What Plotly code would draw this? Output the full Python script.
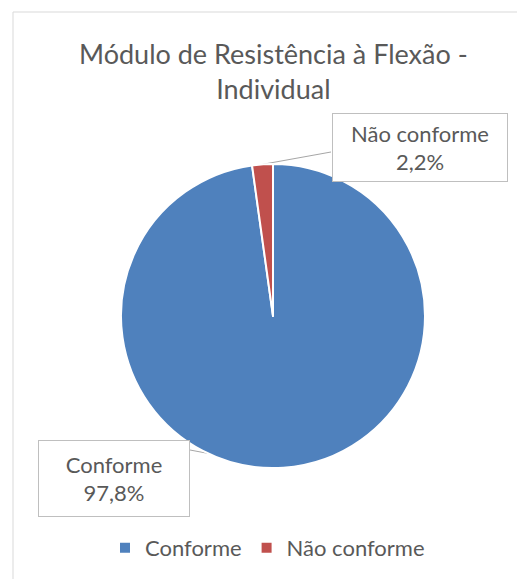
import math
import plotly.graph_objects as go

labels = ["Conforme", "Não conforme"]
values = [97.8, 2.2]
label_texts = ["Conforme<br>97,8%", "Não conforme<br>2,2%"]
colors = ["#4F81BD", "#C0504D"]
title_text = "Módulo de Resistência à Flexão -<br>Individual"

OFF = 8               # default page margin of the html body
W, H = 525 - OFF, 579 - OFF
cx, cy, R = 273, 316, 152  # pie centre/radius in screen pixels


def px2paper(x, y):
    return (x - OFF) / W, (H - (y - OFF)) / H


fig = go.Figure()
dx0, dy1 = px2paper(cx - R, cy - R)
dx1, dy0 = px2paper(cx + R, cy + R)
fig.add_trace(go.Pie(
    labels=labels, values=values, sort=False, direction="clockwise", rotation=0,
    marker=dict(colors=colors, line=dict(color="white", width=2)),
    textinfo="none", hoverinfo="label+percent",
    domain=dict(x=[dx0, dx1], y=[dy0, dy1]),
))

# mid-angle points of each slice on the rim (computed from data)
total = sum(values)
mids = []
acc = 0
for v in values:
    a = (acc + v / 2) / total * 2 * math.pi
    mids.append((cx + R * math.sin(a), cy - R * math.cos(a)))
    acc += v

boxes = [  # centre x, centre y, width, height, leader start
    (114, 478.5, 152, 77, (190, 450)),
    (419.5, 148, 176, 69, (331, 152)),
]
FAM = "Lato, Carlito, Calibri, sans-serif"
font = dict(family=FAM, size=22, color="#595959")
for i, (bx, by, bw, bh, (sx, sy)) in enumerate(boxes):
    ex, ey = mids[i]
    x0, y0 = px2paper(sx, sy)
    x1, y1 = px2paper(ex, ey)
    fig.add_shape(type="line", xref="paper", yref="paper", x0=x0, y0=y0, x1=x1, y1=y1,
                  line=dict(color="#A6A6A6", width=1), layer="below")
    px, py = px2paper(bx, by)
    fig.add_annotation(xref="paper", yref="paper", x=px, y=py, xanchor="center", yanchor="middle",
                       text=label_texts[i], showarrow=False, font=font, align="center",
                       width=bw - 8, height=bh - 8, borderpad=3, bordercolor="#BFBFBF",
                       borderwidth=1, bgcolor="white")

tx, ty = px2paper(273, 71)
fig.add_annotation(xref="paper", yref="paper", x=tx, y=ty, xanchor="center", yanchor="middle",
                   text=title_text, showarrow=False,
                   font=dict(family=FAM, size=27, color="#595959"))

# chart border
bx0, by1 = px2paper(13, 12)
fig.add_shape(type="rect", xref="paper", yref="paper", x0=bx0, y0=-0.05, x1=1.05, y1=by1,
              line=dict(color="#D9D9D9", width=1))

lx, ly = px2paper(105, 548)
fig.update_layout(
    width=W, height=H, margin=dict(l=0, r=0, t=0, b=0),
    paper_bgcolor="white", plot_bgcolor="white",
    showlegend=True,
    legend=dict(orientation="h", x=lx, y=ly, xanchor="left", yanchor="middle",
                font=font, itemwidth=30),
)
fig.write_html("out.html")
